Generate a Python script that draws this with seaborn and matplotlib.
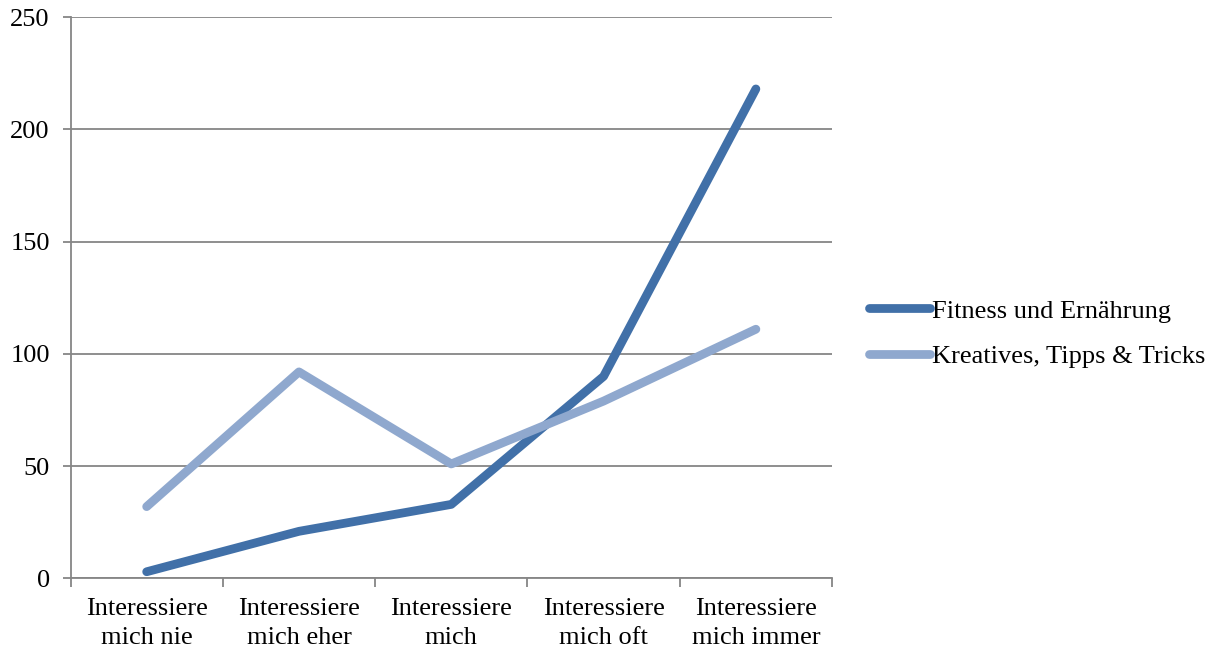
import numpy as np
import pandas as pd
import matplotlib
matplotlib.use("Agg")
import matplotlib.pyplot as plt
import seaborn as sns

categories = ["Interessiere\nmich nie", "Interessiere\nmich eher", "Interessiere\nmich",
              "Interessiere\nmich oft", "Interessiere\nmich immer"]
fitness = [3, 21, 33, 90, 218]
kreatives = [32, 92, 51, 79, 111]
series_names = ["Fitness und Ernährung", "Kreatives, Tipps & Tricks"]
colors = ["#4170A8", "#8FA8CE"]
y_ticks = [0, 50, 100, 150, 200, 250]

sns.set_style("white")
plt.rcParams["font.family"] = ["Liberation Serif", "DejaVu Serif"]
plt.rcParams["text.color"] = "black"
plt.rcParams["xtick.color"] = "black"
plt.rcParams["ytick.color"] = "black"

df = pd.DataFrame({
    "pos": list(range(len(categories))) * 2,
    "value": fitness + kreatives,
    "series": [series_names[0]] * len(fitness) + [series_names[1]] * len(kreatives),
})

fig = plt.figure(figsize=(12.2, 6.57), dpi=100)
ax = fig.add_axes([0.0578, 0.1195, 0.682 - 0.0578, 0.974 - 0.1195])

sns.lineplot(data=df, x="pos", y="value", hue="series", palette=colors,
             linewidth=6.3, ax=ax, legend=True)
for ln in ax.lines:
    ln.set_solid_capstyle("round")
    ln.set_solid_joinstyle("round")

ax.set_xlim(-0.5, len(categories) - 0.5)
ax.set_ylim(0, 250)
ax.set_yticks(y_ticks)
ax.yaxis.grid(True, color="#868686", linewidth=1.3)
ax.set_axisbelow(True)

ax.set_xticks(range(len(categories)))
ax.set_xticklabels(categories, fontsize=19, linespacing=1.42)
ax.set_xticks(np.arange(-0.5, len(categories), 1.0), minor=True)
ax.tick_params(axis="x", which="major", length=0, pad=14)
ax.tick_params(axis="x", which="minor", length=6.5, width=1.3, color="#868686", direction="out", bottom=True)
ax.tick_params(axis="y", length=6, width=1.3, color="#868686", labelcolor="black",
               direction="out", left=True, labelsize=19, pad=9)
ax.tick_params(axis="x", labelcolor="black")

for side in ["top", "right"]:
    ax.spines[side].set_visible(False)
for side in ["left", "bottom"]:
    ax.spines[side].set_color("#868686")
    ax.spines[side].set_linewidth(1.3)

ax.set_xlabel("")
ax.set_ylabel("")

handles, labels = ax.get_legend_handles_labels()
for h in handles:
    h.set_solid_capstyle("round")
leg = fig.legend(handles, labels, loc="center left", bbox_to_anchor=(0.7125, 0.492),
                 frameon=False, fontsize=19, handlelength=2.3, handletextpad=0.08,
                 labelspacing=0.85, borderpad=0, borderaxespad=0)
for t in leg.get_texts():
    t.set_color("black")
ax.get_legend().remove()

fig.savefig("out.png", dpi=100, facecolor="white")
